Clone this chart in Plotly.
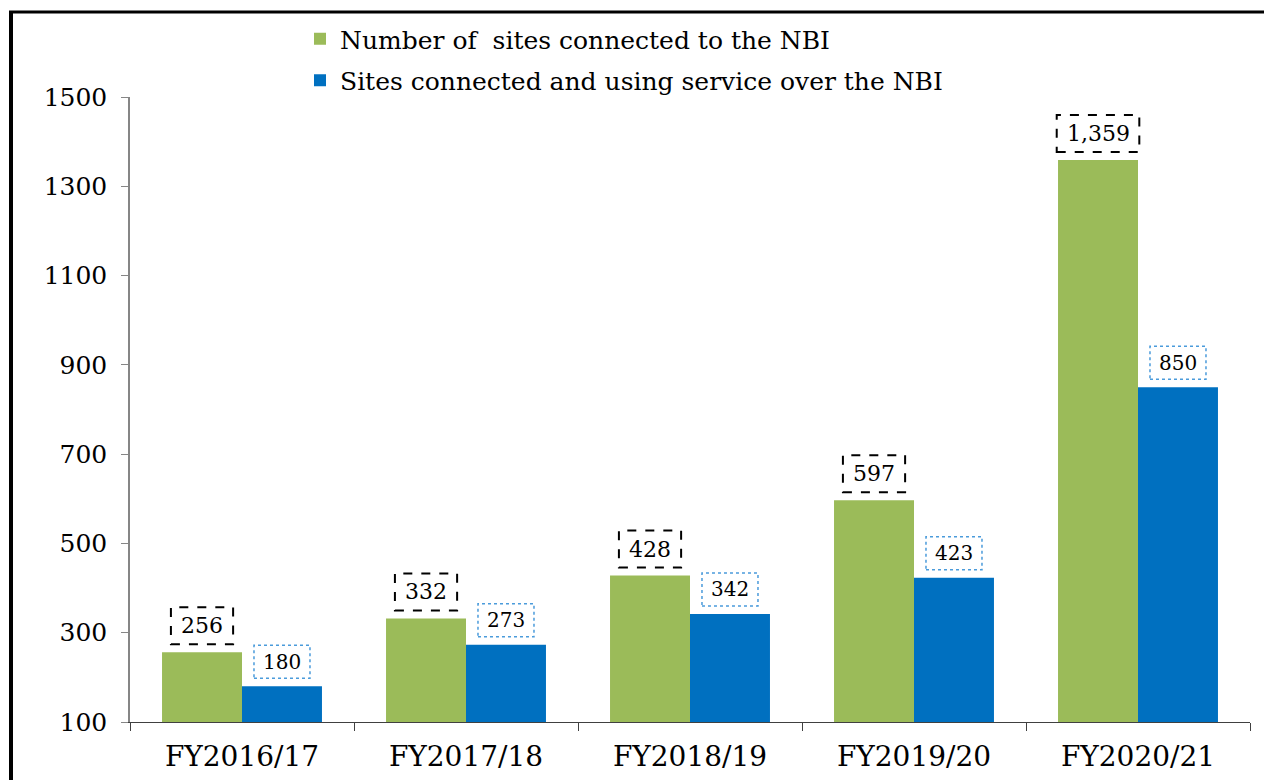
import plotly.graph_objects as go

categories = ["FY2016/17", "FY2017/18", "FY2018/19", "FY2019/20", "FY2020/21"]
connected = [256, 332, 428, 597, 1359]
using_service = [180, 273, 342, 423, 850]
series_names = ["Number of  sites connected to the NBI",
                "Sites connected and using service over the NBI"]
y_ticks = [100, 300, 500, 700, 900, 1100, 1300, 1500]

GREEN = "#9BBB59"
BLUE = "#0070C0"
FONT = "DejaVu Serif"

OFF = 8  # page body margin offset
W, H = 1272 - OFF, 780 - OFF
ML = 130 - OFF
MT = 97 - OFF
PLOT_BOTTOM = 722 - OFF
PLOT_RIGHT = 1250 - OFF
MR = W - PLOT_RIGHT
MB = H - PLOT_BOTTOM
PW = W - ML - MR
PH = H - MT - MB

def px_to_paper_x(px):
    return (px - OFF - ML) / PW

def px_to_paper_y(py):
    return (PLOT_BOTTOM - (py - OFF)) / PH

fig = go.Figure()
fig.add_trace(go.Bar(x=categories, y=connected, name=series_names[0],
                     marker=dict(color=GREEN, line=dict(width=0)),
                     legendgroup="a"))
fig.add_trace(go.Bar(x=categories, y=using_service, name=series_names[1],
                     marker=dict(color=BLUE, line=dict(width=0)),
                     legendgroup="b"))

bar_px = PW / len(categories) * (1 - 0.286) / 2
shapes = []
annotations = []

def fmt(v):
    return f"{v:,}"

for i, cat in enumerate(categories):
    t = fmt(connected[i])
    nd = sum(c.isdigit() for c in t)
    nc = t.count(",")
    w = 14.4 * nd + 6 * nc + 19
    cx = -bar_px / 2
    shapes.append(dict(type="rect", xref="x", yref="y", xsizemode="pixel", ysizemode="pixel",
                       xanchor=i, yanchor=connected[i],
                       x0=cx - w / 2, x1=cx + w / 2, y0=8, y1=45,
                       line=dict(color="black", width=2, dash="dash"),
                       fillcolor="rgba(0,0,0,0)"))
    annotations.append(dict(x=cat, y=connected[i], xref="x", yref="y", text=t,
                            showarrow=False, xshift=cx, yshift=26.5, yanchor="middle",
                            font=dict(family=FONT, size=22, color="black")))
    t = fmt(using_service[i])
    nd = sum(c.isdigit() for c in t)
    nc = t.count(",")
    w = 13 * nd + 6 * nc + 17
    cx = bar_px / 2
    shapes.append(dict(type="rect", xref="x", yref="y", xsizemode="pixel", ysizemode="pixel",
                       xanchor=i, yanchor=using_service[i],
                       x0=cx - w / 2, x1=cx + w / 2, y0=8, y1=41,
                       line=dict(color="#4A9BDB", width=1.5, dash="dot"),
                       fillcolor="rgba(0,0,0,0)"))
    annotations.append(dict(x=cat, y=using_service[i], xref="x", yref="y", text=t,
                            showarrow=False, xshift=cx, yshift=24.5, yanchor="middle",
                            font=dict(family=FONT, size=20, color="black")))

# outer frame (left and top edges)
shapes.append(dict(type="line", xref="paper", yref="paper",
                   x0=px_to_paper_x(11), x1=px_to_paper_x(11),
                   y0=px_to_paper_y(11), y1=px_to_paper_y(800),
                   line=dict(color="black", width=4)))
shapes.append(dict(type="line", xref="paper", yref="paper",
                   x0=px_to_paper_x(9), x1=px_to_paper_x(1300),
                   y0=px_to_paper_y(12), y1=px_to_paper_y(12),
                   line=dict(color="black", width=3)))

fig.update_layout(
    width=W, height=H,
    margin=dict(l=ML, r=MR, t=MT, b=MB, pad=0, autoexpand=False),
    paper_bgcolor="white", plot_bgcolor="white",
    barmode="group", bargap=0.286, bargroupgap=0,
    font=dict(family=FONT, color="black"),
    showlegend=True,
    legend=dict(x=px_to_paper_x(300), y=px_to_paper_y(16), xanchor="left", yanchor="top",
                font=dict(family=FONT, size=25, color="black"),
                bgcolor="rgba(0,0,0,0)", tracegroupgap=6, traceorder="grouped"),
    shapes=shapes,
    annotations=annotations,
)
fig.update_xaxes(type="category", showline=True, linecolor="#404040", linewidth=1.3,
                 ticks="outside", tickson="boundaries", ticklen=8, tickcolor="#404040",
                 tickfont=dict(family=FONT, size=28, color="black"), showgrid=False,
                 zeroline=False, ticklabelstandoff=9, automargin=False)
fig.update_yaxes(range=[100, 1500], tickvals=y_ticks, showline=True, linecolor="#868686",
                 linewidth=1.5, ticks="outside", ticklen=7, tickcolor="#868686",
                 tickfont=dict(family=FONT, size=25, color="black"), showgrid=False,
                 zeroline=False, ticklabelstandoff=9, automargin=False)

fig.write_html("out.html")
